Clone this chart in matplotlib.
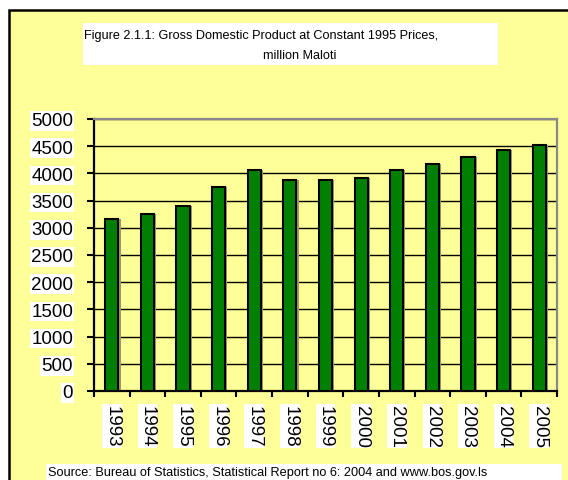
import matplotlib
matplotlib.use("Agg")
import matplotlib.pyplot as plt
from matplotlib.patches import Rectangle
import numpy as np

# GDP at constant 1995 prices, million Maloti
years = ["1993", "1994", "1995", "1996", "1997", "1998", "1999",
         "2000", "2001", "2002", "2003", "2004", "2005"]
gdp = [3160, 3260, 3405, 3745, 4065, 3885, 3880,
       3920, 4065, 4165, 4305, 4435, 4525]
yticks = [0, 500, 1000, 1500, 2000, 2500, 3000, 3500, 4000, 4500, 5000]

title_1 = "Figure 2.1.1: Gross Domestic Product at Constant 1995 Prices,"
title_2 = "million Maloti"
source = "Source: Bureau of Statistics, Statistical Report no 6: 2004 and www.bos.gov.ls"

W, H = 568, 481
YELLOW = "#FFFF99"
GREEN = "#008000"

plt.rcParams['font.family'] = ['Liberation Sans', 'DejaVu Sans']

fig = plt.figure(figsize=(W / 100, H / 100), dpi=100, facecolor="white")


def fx(px):
    return px / W


def fy(py):
    return 1 - py / H


# yellow frame with black border (runs off the right and bottom edges)
fig.patches.append(Rectangle((fx(9), fy(H + 20)), 1.2, fy(11) - fy(H + 20),
                             transform=fig.transFigure, facecolor=YELLOW,
                             edgecolor="black", linewidth=1.8, zorder=-10))

# white boxes for title and source
fig.patches.append(Rectangle((fx(83), fy(66)), fx(498) - fx(83), fy(24) - fy(66),
                             transform=fig.transFigure, facecolor="white",
                             edgecolor="none", zorder=-9))
fig.patches.append(Rectangle((fx(46), fy(H + 5)), fx(562) - fx(46), fy(465) - fy(H + 5),
                             transform=fig.transFigure, facecolor="white",
                             edgecolor="none", zorder=-9))

fig.text(fx(84), fy(36), title_1, fontsize=9.1, ha="left", va="center", zorder=2)
fig.text(fx(300), fy(56), title_2, fontsize=9.1, ha="center", va="center", zorder=2)
fig.text(fx(48), fy(473), source, fontsize=9.2, ha="left", va="center", zorder=2)

ax = fig.add_axes([fx(94), fy(392), fx(557) - fx(94), fy(120) - fy(392)])
ax.set_facecolor(YELLOW)

x = np.arange(len(years))
# light shadow, then the bars
ax.bar(x + 0.06, gdp, width=0.37, color="#9a9a60", linewidth=0, zorder=2)
ax.bar(x, gdp, width=0.37, color=GREEN, edgecolor="black", linewidth=1.5, zorder=3)

ax.set_xlim(-0.5, len(years) - 0.5)
ax.set_ylim(0, 5000)
ax.set_yticks(yticks)
ax.set_yticklabels([str(v) for v in yticks], fontsize=13.5)
ax.yaxis.grid(True, color="black", linewidth=1.0, zorder=1)
ax.set_axisbelow(True)

ax.set_xticks(x)
ax.set_xticklabels(years, rotation=270, fontsize=13.5)
ax.set_xticks(np.arange(len(years) + 1) - 0.5, minor=True)
ax.tick_params(axis="x", which="major", length=0, pad=10)
ax.tick_params(axis="x", which="minor", length=4.5, width=1.5, color="black")
ax.tick_params(axis="y", length=5, width=1.5, pad=10)

for lbl in ax.get_yticklabels() + ax.get_xticklabels():
    lbl.set_bbox(dict(facecolor="white", edgecolor="none", pad=1))

for side in ("left", "bottom"):
    ax.spines[side].set_color("black")
    ax.spines[side].set_linewidth(1.6)
for side in ("top", "right"):
    ax.spines[side].set_color("#888888")
    ax.spines[side].set_linewidth(1.6)

fig.savefig("out.png", dpi=100, facecolor="white")
